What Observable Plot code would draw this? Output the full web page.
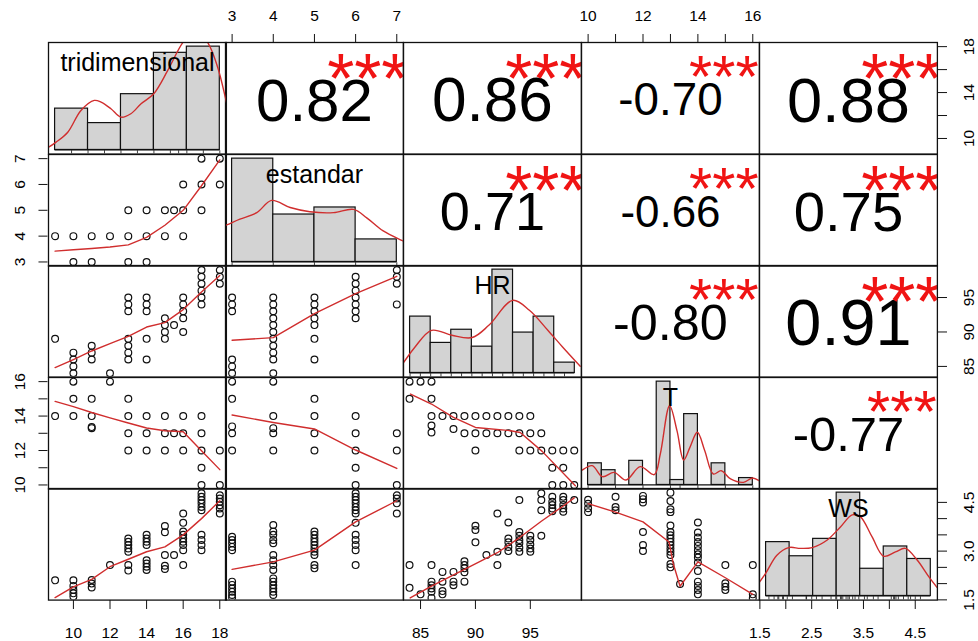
<!DOCTYPE html>
<html><head><meta charset="utf-8">
<script src="https://cdn.jsdelivr.net/npm/d3@7"></script>
<script src="https://cdn.jsdelivr.net/npm/@observablehq/plot@0.6"></script>
<style>
html,body{margin:0;padding:0;background:#fff;}
#chart{position:relative;width:978px;height:641px;overflow:hidden;background:#fff;}
#chart svg{position:absolute;}
</style></head><body><div id="chart"></div>
<script>
// ---------------- DATA ----------------
const varNames = ["tridimensional", "estandar", "HR", "T", "WS"];
// axis limits of each variable (R pairs: data range + 4%)
const triDomain = [8.64, 18.36];
const estDomain = [2.84, 7.16];
const hrDomain = [83.45, 99.65];
const tDomain = [9.76, 16.24];
const wsDomain = [1.493, 4.927];

// tick values and labelled ticks
const triTicks = [10, 12, 14, 16, 18];
const triRightLabels = [10, 14, 18];
const estTicks = [3, 4, 5, 6, 7];
const hrTicks = [85, 90, 95];
const tTicks = [10, 11, 12, 13, 14, 15, 16];
const tLabels = [10, 12, 14, 16];
const wsTicks = [1.5, 2, 2.5, 3, 3.5, 4, 4.5];
const wsBottomLabels = [1.5, 2.5, 3.5, 4.5];
const wsRightLabels = [1.5, 3, 4.5];

// correlations (upper panels, row-major)
const corValues = [0.82, 0.86, -0.70, 0.88, 0.71, -0.66, 0.75, -0.80, 0.91, -0.77];
const corStars = ["***", "***", "***", "***", "***", "***", "***", "***", "***", "***"];

// lower panels: [x, y]
const estVsTri = [[17,7],[18,7],[16,6],[17,6],[18,6],[13,5],[14,5],[15,5],[15.5,5],[16,5],[17,5],
  [9,4],[10,4],[11,4],[12,4],[13,4],[14,4],[15,4],[16,4],[10,3],[11,3],[13,3],[14,3]];
const estVsTriSmooth = [[9,3.42],[10,3.47],[11,3.52],[12,3.58],[13,3.66],[14,3.95],[15,4.42],[16,5.0],[17,5.95],[18,6.95]];

const hrVsTri = [[9,89],[10,87],[10,86],[10,85],[10,84],[11,88],[11,87],[11,86],[12,84],
  [13,95],[13,94],[13,93],[13,89],[13,88],[13,87],[13,86],[14,95],[14,94],[14,93],[14,89],[14,86],
  [15,92],[15,91],[15,90],[15,89],[15.5,91],[16,95],[16,94],[16,93],[16,92],[16,90],
  [17,99],[17,98],[17,97],[17,96],[17,95],[17,94],[18,99],[18,98],[18,97]];
const hrVsTriSmooth = [[9,84.83],[10,86.0],[11,87.24],[12,88.3],[13,89.37],[14,90.72],[15,91.36],[16,93.25],[17,95.8],[18,98.2]];

const tVsTri = [[10,16],[12,16],[10,15],[11,15],[13,15],[9,14],[10,14],[11,14],[13,14],[14,14],[15,14],[16,14],[17,14],
  [11,13.3],[11,13.36],[13,13],[14,13],[15,13],[15.5,13],[16,13],[17,13],[13,12],[14,12],[15,12],[16,12],[17,12],[18,12],
  [17,11],[17,10],[18,10]];
const tVsTriSmooth = [[9,14.85],[10,14.55],[11,14.21],[12,13.9],[13,13.6],[14,13.31],[15,13.15],[16,13.09],[17,11.99],[18,10.89]];

const wsVsTri = [[9,2.1],[10,2.1],[10,1.93],[10,1.8],[10,1.7],[10,1.6],[11,2.11],[11,2.0],[11,1.88],[12,2.57],
  [13,3.39],[13,3.29],[13,3.19],[13,3.08],[13,2.98],[13,2.57],[13,2.4],
  [14,3.5],[14,3.39],[14,3.29],[14,3.19],[14,2.72],[14,2.62],[14,2.52],[14,2.42],
  [15,3.77],[15,3.58],[15,2.88],[15,2.55],[15,2.45],[15.5,2.88],
  [16,4.16],[16,3.87],[16,3.6],[16,3.5],[16,3.39],[16,3.29],[16,3.19],[16,3.03],[16,2.57],
  [17,4.78],[17,4.67],[17,4.57],[17,4.47],[17,4.36],[17,4.26],[17,3.5],[17,3.34],[17,3.19],[17,3.03],
  [18,4.72],[18,4.62],[18,4.52],[18,4.41],[18,4.31],[18,4.16]];
const wsVsTriSmooth = [[9,1.57],[10,1.9],[11,2.13],[12,2.52],[13,2.75],[14,2.98],[15,3.13],[16,3.5],[17,4.0],[18,4.55]];

const hrVsEst = [[3,95],[3,94],[3,93],[3,86],[3,85],[3,84],
  [4,95],[4,94],[4,93],[4,92],[4,91],[4,90],[4,89],[4,88],[4,87],[4,86],[4,84],
  [5,95],[5,94],[5,93],[5,92],[5,91],[5,89],[5,86],
  [6,98],[6,97],[6,96],[6,95],[6,94],[6,93],[6,92],[7,99],[7,98],[7,97],[7,94]];
const hrVsEstSmooth = [[3,88.79],[4,89.18],[5,92.67],[6,95.57],[7,98.08]];

const tVsEst = [[3,16],[3,15],[3,13.4],[3,13],[3,12],[4,16],[4,14],[4,13.3],[4,13],[4,12],
  [5,15],[5,14],[5,13],[5,12],[6,14],[6,13],[6,12],[6,11],[6,10],[7,13],[7,12],[7,10]];
const tVsEstSmooth = [[3,14.06],[4,13.63],[5,13.25],[6,12.03],[7,10.96]];

const wsVsEst = [[3,3.44],[3,3.34],[3,3.24],[3,3.13],[3,3.03],[3,2.06],[3,1.96],[3,1.85],[3,1.75],[3,1.65],[3,1.57],
  [4,3.8],[4,3.6],[4,3.5],[4,3.34],[4,3.24],[4,2.88],[4,2.72],[4,2.57],[4,2.42],[4,2.16],[4,2.06],[4,1.95],[4,1.85],[4,1.75],[4,1.65],
  [5,3.6],[5,3.5],[5,3.39],[5,3.29],[5,3.19],[5,3.08],[5,2.98],[5,2.88],[5,2.57],[5,2.47],
  [6,4.78],[6,4.67],[6,4.57],[6,4.47],[6,4.36],[6,4.26],[6,4.16],[6,3.87],[6,3.5],[6,3.34],[6,3.19],[6,3.03],[6,2.57],
  [7,4.72],[7,4.62],[7,4.47],[7,4.16]];
const wsVsEstSmooth = [[3,2.44],[4,2.67],[5,3.03],[6,3.9],[7,4.55]];

const tVsHr = [[84,16],[85,16],[86,16],[84,15],[86,15],
  [86,14],[87,14],[88,14],[89,14],[90,14],[91,14],[92,14],[93,14],[94,14],[95,14],
  [86,13.45],[86,13.05],[88,13.25],
  [89,13],[90,13],[91,13],[92,13],[93,13],[94,13],[95,13],[96,13],
  [90,12],[94,12],[95,12],[96,12],[97,12],[98,12],[99,12],[97,11],[98,11],[97,10],[98,10],[99,10]];
const tVsHrSmooth = [[84.09,15.28],[86,14.7],[88,13.92],[90,13.34],[93.2,13.15],[94.08,13.05],[96.08,11.95],[99.1,9.96]];

const wsVsHr = [[84,2.57],[84,1.87],[85,1.67],[86,2.57],[86,2.06],[86,1.95],[86,1.85],[86,1.75],[86,1.56],
  [87,2.36],[87,2.06],[87,1.77],[87,1.67],[88,2.36],[88,2.06],[88,1.95],
  [89,2.69],[89,2.57],[89,2.47],[89,2.35],[89,2.06],[90,3.78],[90,3.65],[90,3.27],[91,2.88],
  [92,4.16],[92,2.98],[92,2.57],[93,3.88],[93,3.39],[93,3.27],[93,3.13],[93,3.0],
  [94,4.57],[94,3.59],[94,3.47],[94,3.34],[94,3.24],[94,3.1],[94,2.98],
  [95,3.47],[95,3.34],[95,3.2],[95,3.08],[95,2.98],[96,4.78],[96,4.57],[96,4.26],[96,3.47],
  [97,4.67],[97,4.52],[97,4.42],[97,4.31],[97,4.23],[98,4.67],[98,4.57],[98,4.42],[98,4.31],[98,4.21],[99,4.57]];
const wsVsHrSmooth = [[84.06,1.56],[86,1.92],[89,2.44],[92,2.95],[94,3.41],[96,3.92],[98,4.39],[99,4.64]];

const wsVsT = [[10,4.58],[10,4.46],[10,4.32],[10,4.2],[11,4.67],[11,4.36],[11,4.26],
  [12,4.7],[12,4.6],[12,4.5],[12,3.59],[12,3.19],[12,3.0],
  [13,4.8],[13,4.54],[13,4.29],[13,4.2],[13,3.79],[13,3.59],[13,3.49],[13,3.39],[13,3.29],[13,3.19],[13,3.08],[13,2.98],[13,2.88],[13,2.6],[13,2.5],
  [13.35,1.99],
  [14,3.88],[14,3.57],[14,3.42],[14,3.28],[14,3.16],[14,3.03],[14,2.9],[14,2.8],[14,2.65],[14,2.39],[14,2.06],[14,1.93],[14,1.8],[14,1.67],
  [15,2.57],[15,2.01],[15,1.9],[15,1.8],[16,2.57],[16,1.67],[16,1.56]];
const wsVsTSmooth = [[10,4.46],[11,4.2],[12,3.9],[12.95,3.28],[13.1,2.62],[13.35,1.92],[14,2.67],[15,2.18],[16,1.67]];

// diagonal histograms (breaks, bar heights) and density curves
const triBreaks = [8, 10, 12, 14, 16, 18];
const triCounts = [6, 3.9, 8.1, 14.1, 15];
const triDensity = [[7.4,0.2],[7.61,0.41],[8.06,1.13],[8.77,2.58],[9.57,5.73],[10.38,7.19],[10.79,6.94],[11.39,5.98],[12.0,4.76],[12.6,5.26],[13.22,6.71],[13.99,8.16],[14.84,11.54],[15.75,15.57],[16.5,17.5],[17.27,15.57],[17.87,12.0],[18.38,7.19],[18.6,5]];
const estBreaks = [3, 4, 5, 6, 7];
const estCounts = [22, 10.1, 11.6, 4.8];
const estDensity = [[2.7,7.3],[2.87,7.9],[3.19,9.1],[3.6,10.5],[3.96,13.1],[4.41,11.6],[4.89,10.7],[5.46,10.5],[5.95,11.2],[6.27,9.4],[6.67,6.6],[7.12,4.6],[7.3,3.9]];
const hrBreaks = [84, 86, 88, 90, 92, 94, 96, 98, 100];
const hrCounts = [6, 3.2, 4.6, 2.8, 11, 4.3, 6, 1.1];
const hrDensity = [[83.2,0.9],[83.4,1.17],[84.48,2.77],[86.09,4.54],[88.06,4.01],[90.03,3.77],[91.65,5.07],[93.97,7.73],[95.59,6.67],[97.38,4.54],[98.81,2.77],[100.53,0.71]];
const tBreaks = [10, 10.5, 11, 11.5, 12, 12.5, 13, 13.5, 14, 14.5, 15, 15.5, 16];
const tCounts = [4.4, 3, 0, 4.9, 0, 21, 1, 14.4, 0, 4.4, 0, 1.4];
const tDensity = [[9.6,2.3],[9.75,2.9],[10.15,3.92],[10.52,1.69],[10.95,2.56],[11.38,1.0],[11.9,3.72],[12.41,2.09],[12.63,6.3],[12.97,16.1],[13.24,11.0],[13.48,5.08],[13.71,7.64],[13.98,10.7],[14.25,6.97],[14.56,2.23],[14.85,2.9],[15.19,1.22],[15.66,0.53],[15.99,1.42],[16.23,0.87]];
const wsBreaks = [1.5, 2, 2.5, 3, 3.5, 4, 4.5, 5];
const wsCounts = [9.9, 7.3, 10.5, 19, 5, 9.1, 6.8];
const wsDensity = [[1.34,2.3],[1.49,4.15],[1.73,7.5],[1.98,8.9],[2.23,8.75],[2.48,8.9],[2.8,10.3],[3.08,12.7],[3.33,14.9],[3.5,14.6],[3.75,10.9],[4.0,7.3],[4.25,8.1],[4.46,8.75],[4.71,6.6],[4.96,3.5],[5.13,1.6]];

// ---------------- LAYOUT / DRAWING ----------------
const FONT = '"Liberation Sans", Arial, Helvetica, sans-serif';
const RED = "#d02e2e";
const INK = "#111";
const W = 177.9, H = 111.6, X0 = 47.5, Y0 = 42;
const chart = document.getElementById("chart");
const baseStyle = {background: "transparent", fontFamily: FONT, overflow: "visible", color: "#000"};
function place(svg, left, top) { svg.style.left = left + "px"; svg.style.top = top + "px"; chart.appendChild(svg); }

const ctx = document.createElement("canvas").getContext("2d");
ctx.font = `100px ${FONT}`;
const em = s => ctx.measureText(s).width / 100;

const varDomains = [triDomain, estDomain, hrDomain, tDomain, wsDomain];

function cell(i, j, xDomain, yDomain, marks) {
  const svg = Plot.plot({
    width: W + 2, height: H + 2, margin: 1,
    x: {domain: xDomain, axis: null}, y: {domain: yDomain, axis: null},
    style: baseStyle,
    marks: [...marks, Plot.frame({stroke: INK, strokeWidth: 1.3})]
  });
  place(svg, X0 + j * W - 1, Y0 + i * H - 1);
}

// lower panels
const lowerPanels = [
  {i: 1, j: 0, pts: estVsTri, smooth: estVsTriSmooth},
  {i: 2, j: 0, pts: hrVsTri, smooth: hrVsTriSmooth},
  {i: 3, j: 0, pts: tVsTri, smooth: tVsTriSmooth},
  {i: 4, j: 0, pts: wsVsTri, smooth: wsVsTriSmooth},
  {i: 2, j: 1, pts: hrVsEst, smooth: hrVsEstSmooth},
  {i: 3, j: 1, pts: tVsEst, smooth: tVsEstSmooth},
  {i: 4, j: 1, pts: wsVsEst, smooth: wsVsEstSmooth},
  {i: 3, j: 2, pts: tVsHr, smooth: tVsHrSmooth},
  {i: 4, j: 2, pts: wsVsHr, smooth: wsVsHrSmooth},
  {i: 4, j: 3, pts: wsVsT, smooth: wsVsTSmooth}
];
for (const p of lowerPanels) {
  cell(p.i, p.j, varDomains[p.j], varDomains[p.i], [
    Plot.dot(p.pts, {x: d => d[0], y: d => d[1], r: 3.4, stroke: INK, strokeWidth: 1.2, fill: "none", clip: true}),
    Plot.line(p.smooth, {x: d => d[0], y: d => d[1], stroke: RED, strokeWidth: 1.4, clip: true})
  ]);
}

// upper panels
const upperCells = [[0,1],[0,2],[0,3],[0,4],[1,2],[1,3],[1,4],[2,3],[2,4],[3,4]];
upperCells.forEach(([i, j], k) => {
  const r = corValues[k];
  const txt = r.toFixed(2);
  const base = 0.762 * W;
  const starSize = base / em(txt);
  const numSize = starSize * (Math.abs(r) + 0.3) / 1.3;
  cell(i, j, [0, 1], [0, 1], [
    Plot.text([txt], {frameAnchor: "middle", text: d => d, fontSize: numSize, lineAnchor: "middle", dy: 0.05 * numSize, fill: "#000", clip: true}),
    Plot.text([corStars[k]], {x: () => 0.8, y: () => 0.8, text: d => d, fontSize: starSize, lineAnchor: "top", dy: -0.165 * starSize, fill: "#f01414", clip: true})
  ]);
});

// diagonal panels
const diagSpecs = [
  {breaks: triBreaks, counts: triCounts, dens: triDensity, rug: estVsTri.map(d => d[0]).concat(wsVsTri.map(d => d[0]))},
  {breaks: estBreaks, counts: estCounts, dens: estDensity, rug: hrVsEst.map(d => d[0])},
  {breaks: hrBreaks, counts: hrCounts, dens: hrDensity, rug: wsVsHr.map(d => d[0])},
  {breaks: tBreaks, counts: tCounts, dens: tDensity, rug: wsVsT.map(d => d[0])},
  {breaks: wsBreaks, counts: wsCounts, dens: wsDensity, rug: wsVsHr.map(d => d[1])}
];
diagSpecs.forEach((s, i) => {
  const b0 = s.breaks[0], bn = s.breaks[s.breaks.length - 1];
  const xd = [b0 - 0.04 * (bn - b0), bn + 0.04 * (bn - b0)];
  const ym = d3.max(s.counts);
  const yd = [-0.04 * ym, 1.04 * ym];
  const bins = s.counts.map((c, k) => ({x1: s.breaks[k], x2: s.breaks[k + 1], c}));
  const rug = Array.from(new Set(s.rug));
  cell(i, i, xd, yd, [
    Plot.rect(bins.filter(d => d.c > 0), {x1: "x1", x2: "x2", y1: 0, y2: "c", fill: "#d3d3d3", stroke: INK, strokeWidth: 1.2}),
    Plot.ruleY([0], {x1: b0, x2: bn, stroke: INK, strokeWidth: 1.2}),
    Plot.line(s.dens, {x: d => d[0], y: d => d[1], stroke: RED, strokeWidth: 1.4, curve: "catmull-rom", clip: true}),
    Plot.ruleX(rug, {x: d => d, y1: yd[0], y2: yd[0] + 0.03 * (yd[1] - yd[0]), stroke: INK, strokeWidth: 0.8, clip: true}),
    Plot.text([varNames[i]], {frameAnchor: "top", text: d => d, dy: 0.167 * H + 2, fontSize: 25, lineAnchor: "middle", fill: "#000"})
  ]);
});

// axes
const labelFmt = (labels, dec) => d => labels.includes(d) ? (dec ? d.toFixed(dec) : String(d)) : "";
const AX = {tickSize: 9, fontSize: 15.5, stroke: INK, fill: "#000"};
function xAxis(col, anchor, ticks, labels, dec) {
  const top = anchor === "top";
  const svg = Plot.plot({
    width: W + 40, height: 43, marginLeft: 20, marginRight: 20,
    marginTop: top ? 42 : 0, marginBottom: top ? 0 : 42,
    x: {domain: varDomains[col]}, style: baseStyle,
    marks: [Plot.axisX(ticks, {anchor, tickFormat: labelFmt(labels, dec), tickPadding: top ? 12.3 : 17.7, label: null, ...AX})]
  });
  place(svg, X0 + col * W - 20, top ? 0 : Y0 + 5 * H - 1);
}
function yAxis(row, anchor, ticks, labels, dec) {
  const left = anchor === "left";
  const svg = Plot.plot({
    width: left ? 48.5 : 42, height: H + 40, marginTop: 20, marginBottom: 20,
    marginLeft: left ? 47.5 : 0, marginRight: left ? 0 : 41,
    y: {domain: varDomains[row]}, style: baseStyle,
    marks: [Plot.axisY(ticks, {anchor, tickRotate: -90, tickFormat: labelFmt(labels, dec), tickPadding: left ? 13.5 : 28, label: null, ...AX})]
  });
  place(svg, left ? 0 : X0 + 5 * W - 1, Y0 + row * H - 20);
}
xAxis(0, "bottom", triTicks, triTicks, 0);
xAxis(2, "bottom", hrTicks, hrTicks, 0);
xAxis(4, "bottom", wsTicks, wsBottomLabels, 1);
xAxis(1, "top", estTicks, estTicks, 0);
xAxis(3, "top", tTicks, tLabels, 0);
yAxis(1, "left", estTicks, estTicks, 0);
yAxis(3, "left", tTicks, tLabels, 0);
yAxis(0, "right", triTicks, triRightLabels, 0);
yAxis(2, "right", hrTicks, hrTicks, 0);
yAxis(4, "right", wsTicks, wsRightLabels, 1);
</script></body></html>
